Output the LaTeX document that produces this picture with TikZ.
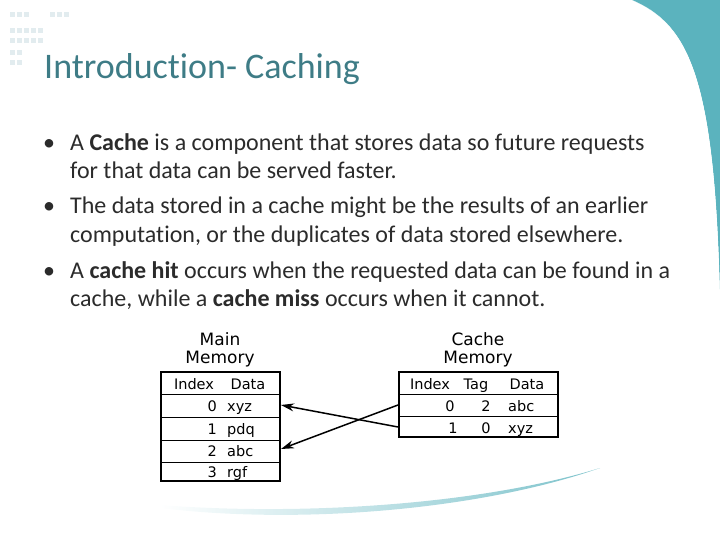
\documentclass[tikz,border=0pt]{standalone}
\usepackage{fontspec}
\usetikzlibrary{arrows.meta}
\setmainfont{Carlito}[Ligatures=NoCommon]
\newfontfamily\tabfont{DejaVu Sans}
\definecolor{teal1}{HTML}{5BB3BE}
\definecolor{titlec}{HTML}{3E7C86}
\definecolor{txt}{HTML}{2B2B2B}
\definecolor{dotc}{HTML}{E2ECEF}
\begin{document}
\begin{tikzpicture}[x=1pt,y=-1pt,
  tcell/.style={font=\tabfont\fontsize{14.5}{15}\selectfont, inner sep=0pt, anchor=base},
  hdr/.style={font=\tabfont\fontsize{17}{18}\selectfont, align=center, inner sep=0pt},
  bul/.style={font=\fontsize{24}{24}\selectfont, text=txt, anchor=base west, inner sep=0pt},
  arr/.style={line width=1.5pt, -{Stealth[length=13pt,width=8pt]}}]
\useasboundingbox (0,0) rectangle (720,540);
% decor
\fill[teal1] (632,0) .. controls (690,25) and (715,80) .. (720,300) -- (720,0) -- cycle;
\fill[white] (632,0) .. controls (690,25) and (712,80) .. (717,300) -- (720,300) .. controls (715,80) and (690,25) .. (632,0);
\shade[left color=white, right color=teal1!80, middle color=teal1!40]
 (160,508) .. controls (300,525) and (480,510) .. (600,468) .. controls (480,505) and (300,516) .. (160,505) -- cycle;
\foreach \x in {10,17,24,50,57,64} \fill[dotc] (\x,12) rectangle +(5,5);
\foreach \y in {28,38} \foreach \x in {10,17,24,31,38} \fill[dotc] (\x,\y) rectangle +(5,5);
\foreach \y in {50,60} \foreach \x in {10,17} \fill[dotc] (\x,\y) rectangle +(5,5);
% title
\node[anchor=base west, inner sep=0pt, text=titlec, font=\fontsize{36}{36}\selectfont] (title) at (44,79) {Introduction- Caching};
% bullets
\node[bul, anchor=base] (d1) at (49,151) {\textbullet};
\node[bul] (b1) at (70,151) {A \textbf{Cache} is a component that stores data so future requests};
\node[bul] (b1b) at (70,179) {for that data can be served faster.};
\node[bul, anchor=base] (d2) at (49,214) {\textbullet};
\node[bul] (b2) at (70,214) {The data stored in a cache might be the results of an earlier};
\node[bul] (b2b) at (70,242) {computation, or the duplicates of data stored elsewhere.};
\node[bul, anchor=base] (d3) at (49,278) {\textbullet};
\node[bul] (b3) at (70,278) {A \textbf{cache hit} occurs when the requested data can be found in a};
\node[bul] (b3b) at (70,306) {cache, while a \textbf{cache miss} occurs when it cannot.};
% main memory
\node[hdr] (mmh) at (220,350) {Main\\Memory};
\draw[line width=1.8pt] (161,372) rectangle (280,481);
\foreach \y in {394,417,440,462} \draw[line width=1pt] (161,\y) -- (280,\y);
\node[tcell] (mi) at (194,389) {Index};
\node[tcell] (md) at (248,389) {Data};
\node[tcell, anchor=base east] (m0) at (217,411) {0};
\node[tcell, anchor=base west] (m0d) at (227,411) {xyz};
\node[tcell, anchor=base east] (m1) at (217,434) {1};
\node[tcell, anchor=base west] (m1d) at (227,434) {pdq};
\node[tcell, anchor=base east] (m2) at (217,456) {2};
\node[tcell, anchor=base west] (m2d) at (227,456) {abc};
\node[tcell, anchor=base east] (m3) at (217,477) {3};
\node[tcell, anchor=base west] (m3d) at (227,477) {rgf};
% cache
\node[hdr] (cmh) at (478,350) {Cache\\Memory};
\draw[line width=1.8pt] (399,372) rectangle (558,437);
\foreach \y in {394,416} \draw[line width=1pt] (399,\y) -- (558,\y);
\node[tcell] (ci) at (430,389) {Index};
\node[tcell] (ct) at (476,389) {Tag};
\node[tcell] (cd) at (527,389) {Data};
\node[tcell] (c0) at (450,411) {0};
\node[tcell] (c0t) at (486,411) {2};
\node[tcell, anchor=base west] (c0d) at (508,411) {abc};
\node[tcell] (c1) at (453,433) {1};
\node[tcell] (c1t) at (486,433) {0};
\node[tcell, anchor=base west] (c1d) at (508,433) {xyz};
\coordinate (cr0) at (398,405);
\coordinate (cr1) at (398,427);
\coordinate (mr0) at (281,405);
\coordinate (mr2) at (281,449);
\draw[arr] (cr1) -- (mr0);
\draw[arr] (cr0) -- (mr2);
\end{tikzpicture}
\end{document}
